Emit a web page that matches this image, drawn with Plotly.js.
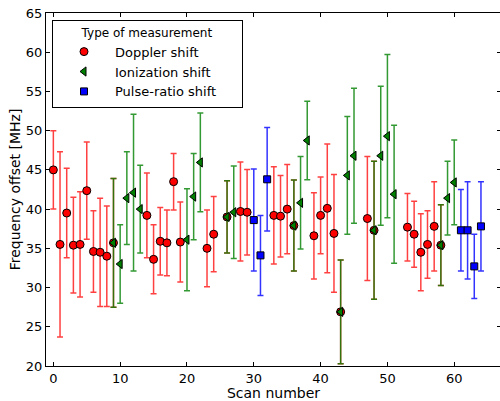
<!DOCTYPE html>
<html>
<head>
<meta charset="utf-8">
<script src="https://cdn.plot.ly/plotly-3.0.1.min.js"></script>
<style>
html, body { margin: 0; padding: 0; overflow: hidden; background: #fff; }
#chart { width: 502px; height: 401px; }
</style>
</head>
<body>
<div id="chart"></div>
<script>
// Doppler shift measurements
const dopplerScan = [0,1,2,3,4,5,6,7,8,9,14,15,16,17,18,19,23,24,26,28,29,33,34,35,36,39,40,41,42,43,47,48,53,54,55,56,57,58];
const dopplerValue = [45.0,35.5,39.5,35.4,35.5,42.35,34.6,34.5,34.0,35.7,39.2,33.6,35.9,35.7,43.5,35.8,35.0,36.8,39.0,39.7,39.6,39.2,39.1,40.0,37.9,36.6,39.2,40.1,36.9,26.9,38.8,37.3,37.7,36.8,34.5,35.5,37.8,35.4];
const dopplerError = [5.0,11.8,5.7,6.1,6.7,6.2,5.2,6.9,6.4,8.2,5.4,4.4,4.3,4.2,3.6,5.1,4.9,4.8,4.6,6.3,5.45,6.2,5.2,5.7,5.8,5.5,4.9,8.2,7.5,6.6,7.9,8.8,4.3,4.2,4.9,4.3,5.7,5.15];

// Ionization shift measurements
const ionScan = [9,10,11,12,13,20,21,22,26,27,36,37,38,43,44,45,48,49,50,51,58,59,60];
const ionValue = [35.7,33.0,41.4,42.1,40.0,36.1,41.6,45.95,39.0,39.6,37.9,40.8,48.75,26.9,44.3,46.8,37.3,46.8,49.3,41.9,35.4,41.4,43.4];
const ionError = [8.2,5.0,5.9,10.0,5.6,6.5,5.5,6.3,4.6,5.9,5.8,5.9,5.0,6.6,7.5,8.6,8.8,8.85,10.4,8.8,5.15,4.7,5.4];

// Pulse-ratio shift measurements
const pulseScan = [30,31,32,61,62,63,64];
const pulseValue = [38.6,34.1,43.8,37.3,37.3,32.7,37.8];
const pulseError = [6.5,5.1,6.6,5.2,6.2,4.1,5.7];

const seriesNames = ['Doppler shift','Ionization shift','Pulse-ratio shift'];
const legendTitle = 'Type of measurement';
const xTitle = 'Scan number';
const yTitle = 'Frequency offset [MHz]';

const FONT = 'DejaVu Sans, Liberation Sans, sans-serif';
// trailing space so the legend frame is as wide as the reference one
const namePad = '&nbsp;'.repeat(5);

function series(name, xs, ys, es, symbol, fill, barColor, size) {
  return {
    type: 'scatter', mode: 'markers', name: name + namePad,
    x: xs, y: ys,
    error_y: { type: 'data', array: es, symmetric: true, color: barColor, thickness: 1.5, width: 3 },
    marker: { symbol: symbol, size: size, color: fill, line: { color: '#000', width: 1 } },
    cliponaxis: false
  };
}

const data = [
  series(seriesNames[0], dopplerScan, dopplerValue, dopplerError, 'circle', '#ff0000', 'rgba(255,0,0,0.75)', 8),
  series(seriesNames[1], ionScan, ionValue, ionError, 'triangle-left', '#008000', 'rgba(0,128,0,0.8)', 8),
  series(seriesNames[2], pulseScan, pulseValue, pulseError, 'square', '#0000ff', 'rgba(0,0,255,0.8)', 7)
];

const axisCommon = {
  showgrid: false, zeroline: false, showline: true, linecolor: '#000', linewidth: 1,
  mirror: 'allticks', ticks: 'inside', ticklen: 4, tickwidth: 1, tickcolor: '#000',
  tickfont: { family: FONT, size: 13, color: '#000' }, automargin: false
};

const layout = {
  width: 502, height: 401,
  margin: { l: 46, r: 1, t: 13, b: 35 },
  paper_bgcolor: '#fff', plot_bgcolor: '#fff',
  font: { family: FONT, color: '#000' },
  showlegend: true,
  legend: {
    x: 0.0132, y: 0.980, xanchor: 'left', yanchor: 'top',
    bgcolor: '#fff', bordercolor: '#000', borderwidth: 1,
    font: { family: FONT, size: 13, color: '#000' },
    title: { text: legendTitle, side: 'top center', font: { family: FONT, size: 12, color: '#000' } },
    itemwidth: 52, tracegroupgap: 0
  },
  xaxis: Object.assign({}, axisCommon, {
    range: [-1.1, 67], dtick: 10, tick0: 0,
    title: { text: xTitle, font: { family: FONT, size: 14, color: '#000' }, standoff: 0 }
  }),
  yaxis: Object.assign({}, axisCommon, {
    range: [20, 65], dtick: 5, tick0: 20,
    title: { text: yTitle, font: { family: FONT, size: 14, color: '#000' }, standoff: 1 }
  })
};

Plotly.newPlot('chart', data, layout, { displayModeBar: false, staticPlot: true });
</script>
</body>
</html>
